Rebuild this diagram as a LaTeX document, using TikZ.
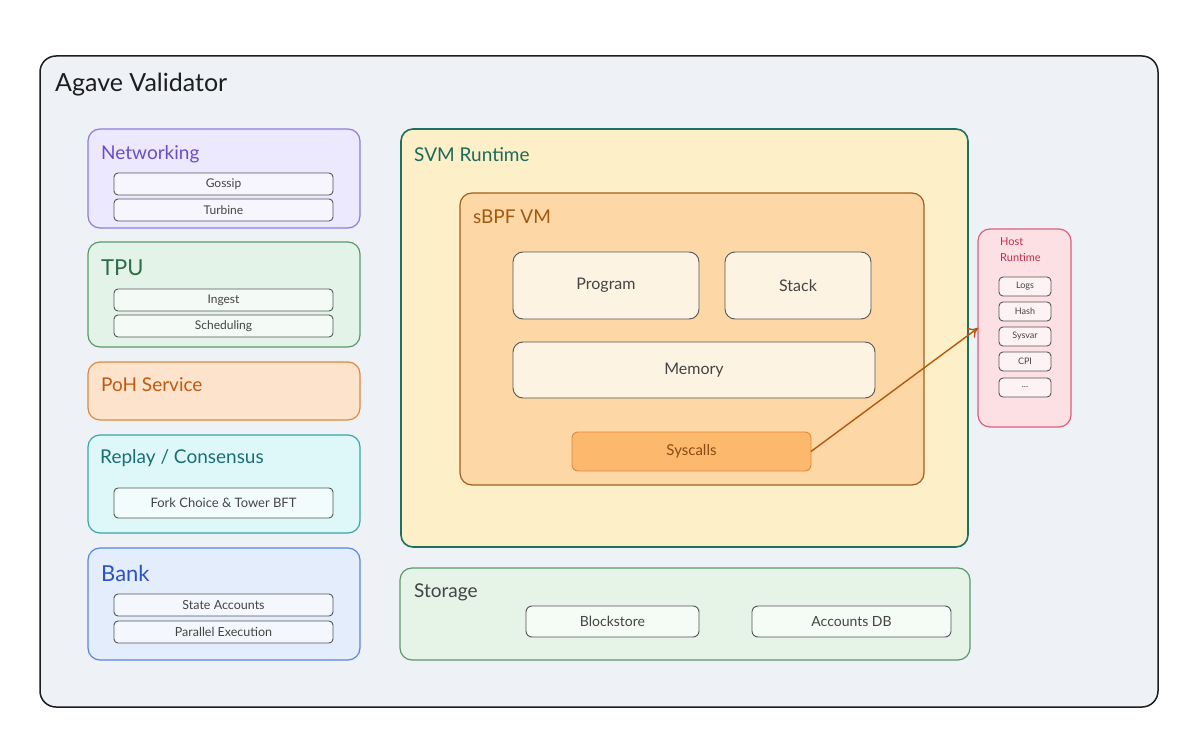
\documentclass[tikz,border=0pt]{standalone}
\usepackage{fontspec}
\setmainfont{Lato}
\usetikzlibrary{arrows.meta}
\definecolor{outerfill}{HTML}{EEF1F5}
\definecolor{outerdraw}{HTML}{1E1E1E}
\definecolor{netfill}{HTML}{ECE8FD}
\definecolor{netdraw}{HTML}{8B7EE0}
\definecolor{nettext}{HTML}{6A4FC9}
\definecolor{tpufill}{HTML}{E4F3E8}
\definecolor{tpudraw}{HTML}{5A9A6A}
\definecolor{tputext}{HTML}{2B6E48}
\definecolor{pohfill}{HTML}{FDE3CC}
\definecolor{pohdraw}{HTML}{E08A3A}
\definecolor{pohtext}{HTML}{C05A10}
\definecolor{repfill}{HTML}{DEF8FA}
\definecolor{repdraw}{HTML}{3AA6A6}
\definecolor{reptext}{HTML}{1B6F73}
\definecolor{bankfill}{HTML}{E3EDFC}
\definecolor{bankdraw}{HTML}{5588E0}
\definecolor{banktext}{HTML}{2B53C8}
\definecolor{svmfill}{HTML}{FDF0C8}
\definecolor{svmdraw}{HTML}{1F7060}
\definecolor{svmtext}{HTML}{1A6B5B}
\definecolor{vmfill}{HTML}{FDD7A5}
\definecolor{vmdraw}{HTML}{A0601A}
\definecolor{vmtext}{HTML}{A05A10}
\definecolor{innerfill}{HTML}{FDF3E3}
\definecolor{sysfill}{HTML}{FCB86C}
\definecolor{systext}{HTML}{8A4A10}
\definecolor{hostfill}{HTML}{FDE0E3}
\definecolor{hostdraw}{HTML}{D9607A}
\definecolor{hosttext}{HTML}{C0304A}
\definecolor{storfill}{HTML}{E5F4E6}
\definecolor{subdraw}{HTML}{555555}
\definecolor{subtext}{HTML}{444444}
\definecolor{arrowcol}{HTML}{B5580C}
\tikzset{
  box/.style={draw, rounded corners=12pt, inner sep=0pt, outer sep=0pt, anchor=north west, line width=1.2pt},
  sub/.style={draw=subdraw, rounded corners=4pt, inner sep=0pt, outer sep=0pt, anchor=north west, line width=0.9pt, text=subtext, font=\fontsize{12}{14}\selectfont},
  ttl/.style={anchor=west, inner sep=0pt, font=\fontsize{19}{22}\selectfont},
  arr/.style={draw=arrowcol, line width=1.4pt, -{To[length=9pt,width=12pt]}},
}
\begin{document}
\begin{tikzpicture}[x=1pt,y=-1pt]
\useasboundingbox (0,0) rectangle (1200,746);
\fill[white] (0,0) rectangle (1200,746);
% outer
\node[box, fill=outerfill, draw=outerdraw, line width=1.5pt, rounded corners=16pt, minimum width=1118pt, minimum height=651pt] (outer) at (40,56) {};
\node[anchor=west, inner sep=0pt, font=\fontsize{25}{28}\selectfont, text=outerdraw] (outert) at (55,85) {Agave Validator};
% Networking
\node[box, fill=netfill, draw=netdraw, minimum width=272pt, minimum height=99pt] (net) at (88,129) {};
\node[ttl, text=nettext] (nett) at (101,154) {Networking};
\node[sub, fill=netfill!40!white, minimum width=219pt, minimum height=22pt] (gossip) at (114,173) {Gossip};
\node[sub, fill=netfill!40!white, minimum width=219pt, minimum height=22pt] (turbine) at (114,199) {Turbine};
% TPU
\node[box, fill=tpufill, draw=tpudraw, minimum width=272pt, minimum height=105pt] (tpu) at (88,242) {};
\node[ttl, text=tputext, font=\fontsize{22}{24}\selectfont] (tput) at (101,268) {TPU};
\node[sub, fill=tpufill!40!white, minimum width=219pt, minimum height=22pt] (ingest) at (114,289) {Ingest};
\node[sub, fill=tpufill!40!white, minimum width=219pt, minimum height=22pt] (sched) at (114,315) {Scheduling};
% PoH
\node[box, fill=pohfill, draw=pohdraw, minimum width=272pt, minimum height=58pt] (poh) at (88,362) {};
\node[ttl, text=pohtext] (poht) at (101,385) {PoH Service};
% Replay
\node[box, fill=repfill, draw=repdraw, minimum width=272pt, minimum height=98pt] (rep) at (88,435) {};
\node[ttl, text=reptext] (rept) at (100,458) {Replay / Consensus};
\node[sub, fill=repfill!40!white, minimum width=219pt, minimum height=30pt, font=\fontsize{13}{15}\selectfont] (fork) at (114,488) {Fork Choice \& Tower BFT};
% Bank
\node[box, fill=bankfill, draw=bankdraw, minimum width=272pt, minimum height=112pt] (bank) at (88,548) {};
\node[ttl, text=banktext, font=\fontsize{22}{24}\selectfont] (bankt) at (101,573) {Bank};
\node[sub, fill=bankfill!40!white, minimum width=219pt, minimum height=22pt, font=\fontsize{12.5}{14}\selectfont] (state) at (114,594) {State Accounts};
\node[sub, fill=bankfill!40!white, minimum width=219pt, minimum height=22pt, font=\fontsize{12.5}{14}\selectfont] (par) at (114,621) {Parallel Execution};
% SVM
\node[box, fill=svmfill, draw=svmdraw, line width=1.6pt, minimum width=567pt, minimum height=418pt] (svm) at (401,129) {};
\node[ttl, text=svmtext] (svmt) at (414,155) {SVM Runtime};
\node[box, fill=vmfill, draw=vmdraw, minimum width=464pt, minimum height=292pt] (vm) at (460,193) {};
\node[ttl, text=vmtext] (vmt) at (473,217) {sBPF VM};
\node[sub, fill=innerfill, rounded corners=10pt, minimum width=186pt, minimum height=67pt, font=\fontsize{16}{18}\selectfont] (prog) at (513,252) {Program};
\node[sub, fill=innerfill, rounded corners=10pt, minimum width=146pt, minimum height=67pt, font=\fontsize{16}{18}\selectfont] (stack) at (725,252) {Stack};
\node[sub, fill=innerfill, rounded corners=10pt, minimum width=362pt, minimum height=56pt, font=\fontsize{16}{18}\selectfont] (mem) at (513,342) {Memory};
\node[sub, fill=sysfill, draw=pohdraw, text=systext, rounded corners=6pt, minimum width=239pt, minimum height=39pt, font=\fontsize{15}{17}\selectfont] (sys) at (572,432) {Syscalls};
% Host runtime
\node[box, fill=hostfill, draw=hostdraw, minimum width=93pt, minimum height=198pt] (host) at (978,229) {};
\node[anchor=north west, inner sep=0pt, align=left, text=hosttext, font=\fontsize{11}{16}\selectfont] (hostt) at (1000,237) {Host\\Runtime};
\node[sub, fill=hostfill!40!white, minimum width=52pt, minimum height=19pt, font=\fontsize{9}{10}\selectfont] (logs) at (999,277) {Logs};
\node[sub, fill=hostfill!40!white, minimum width=52pt, minimum height=19pt, font=\fontsize{9}{10}\selectfont] (hash) at (999,302) {Hash};
\node[sub, fill=hostfill!40!white, minimum width=52pt, minimum height=19pt, font=\fontsize{9}{10}\selectfont] (sysvar) at (999,327) {Sysvar};
\node[sub, fill=hostfill!40!white, minimum width=52pt, minimum height=19pt, font=\fontsize{9}{10}\selectfont] (cpi) at (999,352) {CPI};
\node[sub, fill=hostfill!40!white, minimum width=52pt, minimum height=19pt, font=\fontsize{9}{10}\selectfont] (dots) at (999,378) {...};
% Storage
\node[box, fill=storfill, draw=tpudraw, minimum width=570pt, minimum height=92pt] (stor) at (400,568) {};
\node[ttl, text=subtext] (stort) at (414,592) {Storage};
\node[sub, fill=storfill!40!white, rounded corners=6pt, minimum width=173pt, minimum height=31pt, font=\fontsize{14}{16}\selectfont] (block) at (526,606) {Blockstore};
\node[sub, fill=storfill!40!white, rounded corners=6pt, minimum width=199pt, minimum height=31pt, font=\fontsize{14}{16}\selectfont] (adb) at (752,606) {Accounts DB};
% arrow
\draw[arr] (sys.east) -- (host.west);
\end{tikzpicture}
\end{document}
